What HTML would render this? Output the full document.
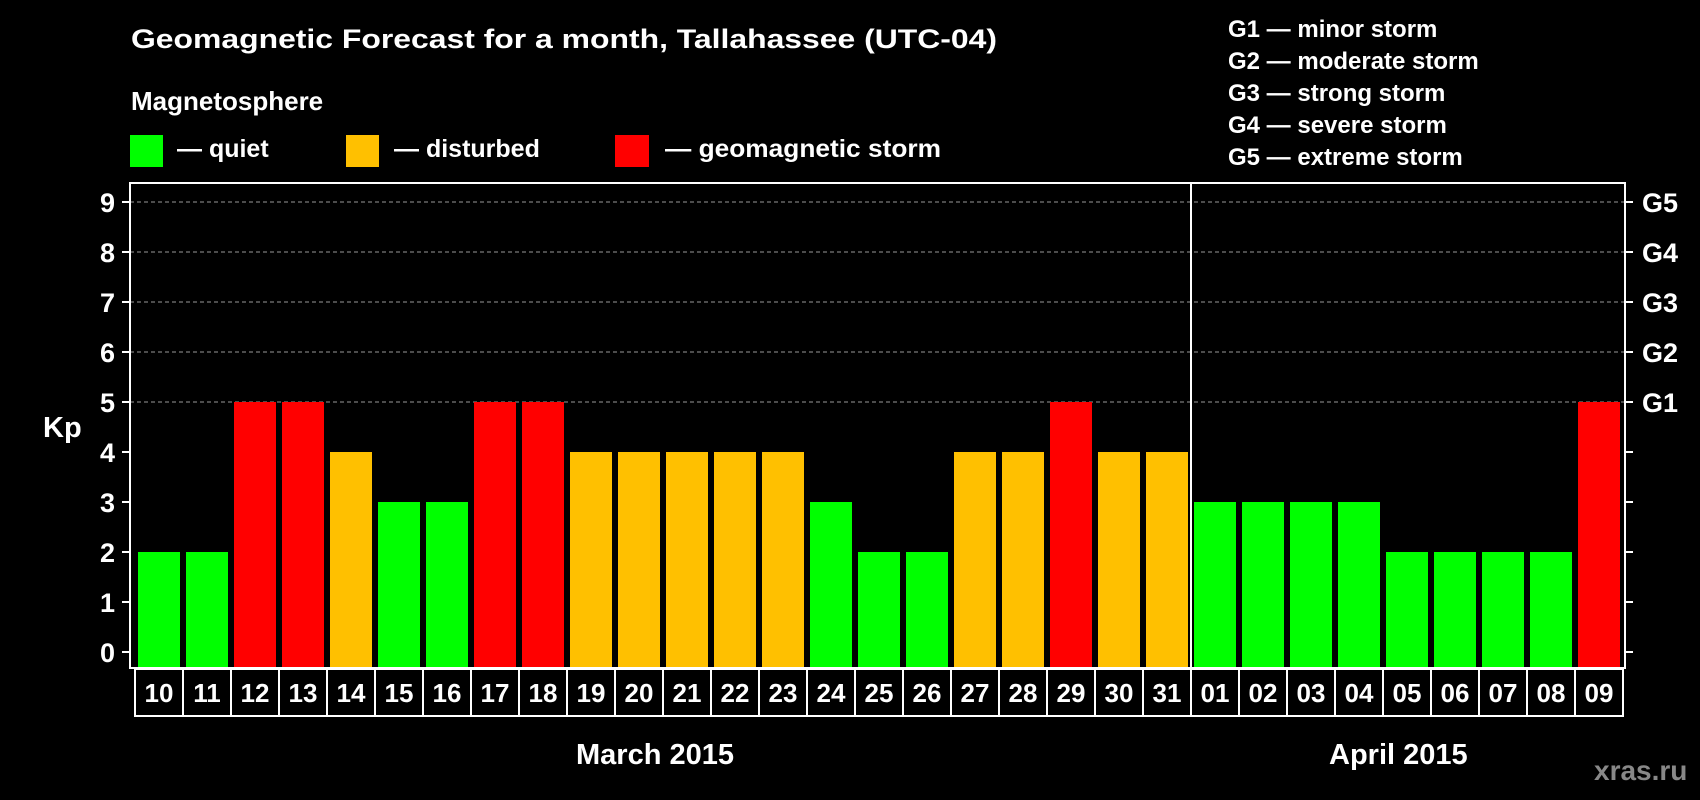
<!DOCTYPE html>
<html><head><meta charset="utf-8"><style>
html,body{margin:0;padding:0;background:#000;width:1700px;height:800px;overflow:hidden}
svg text{font-family:"Liberation Sans",sans-serif;font-weight:bold;fill:#fff}
</style></head><body>
<svg id="chart" width="1700" height="800" viewBox="0 0 1700 800" xmlns="http://www.w3.org/2000/svg">
<rect width="1700" height="800" fill="#000"/>
<text x="131" y="48" font-size="27" textLength="866" lengthAdjust="spacingAndGlyphs">Geomagnetic Forecast for a month, Tallahassee (UTC-04)</text>
<text x="131" y="110" font-size="26">Magnetosphere</text>
<rect x="130" y="135" width="33" height="32" fill="#00ff00"/>
<text x="177" y="157" font-size="25">— quiet</text>
<rect x="346" y="135" width="33" height="32" fill="#ffc000"/>
<text x="394" y="157" font-size="25">— disturbed</text>
<rect x="615" y="135" width="34" height="32" fill="#ff0000"/>
<text x="665" y="157" font-size="25" textLength="276" lengthAdjust="spacingAndGlyphs">— geomagnetic storm</text>
<g font-size="24">
<text x="1228" y="37" font-size="24">G1 — minor storm</text>
<text x="1228" y="69" font-size="24">G2 — moderate storm</text>
<text x="1228" y="101" font-size="24">G3 — strong storm</text>
<text x="1228" y="133" font-size="24">G4 — severe storm</text>
<text x="1228" y="165" font-size="24">G5 — extreme storm</text>
</g>
<text x="43" y="437" font-size="29">Kp</text>
<g id="grid"></g><g id="bars"></g><g id="axes"></g><g id="labels"></g>
<text x="576" y="764" font-size="29">March 2015</text>
<text x="1329" y="764" font-size="29">April 2015</text>
<text x="1594" y="780" font-size="28" style="fill:#888">xras.ru</text>
</svg>
<script>
const days = ["10","11","12","13","14","15","16","17","18","19","20","21","22","23","24","25","26","27","28","29","30","31","01","02","03","04","05","06","07","08","09"];
const kpValues = [2,2,5,5,4,3,3,5,5,4,4,4,4,4,3,2,2,4,4,5,4,4,3,3,3,3,2,2,2,2,5];
const yTicks = [0,1,2,3,4,5,6,7,8,9];
const gLabels = ["G1","G2","G3","G4","G5"];
const gLevels = [5,6,7,8,9];
const monthSplitIndex = 22;

const NS = "http://www.w3.org/2000/svg";
const x0 = 135, slot = 48, barW = 42, barOff = 3;
const yZero = 652, yStep = 50;
const plotLeft = 130, plotRight = 1625, plotTop = 183, plotBottom = 668;
function xPos(i){ return x0 + slot*i; }
function yPos(v){ return yZero - v*yStep; }
function mk(tag, attrs, parent){ const e=document.createElementNS(NS,tag); for(const k in attrs) e.setAttribute(k,attrs[k]); parent.appendChild(e); return e; }
function colorFor(v){ return v>=5 ? "#ff0000" : (v>=4 ? "#ffc000" : "#00ff00"); }

const gridG=document.getElementById("grid"), barsG=document.getElementById("bars"), axesG=document.getElementById("axes"), labelsG=document.getElementById("labels");

gLevels.forEach((lv,i)=>{
  const l = mk("line",{x1:plotLeft,x2:plotRight,y1:yPos(lv),y2:yPos(lv),stroke:"#999","stroke-width":1,"stroke-dasharray":"4,3"},gridG);
  
  
  const t = mk("text",{x:1642,y:yPos(lv)+10,"font-size":27},axesG);
  t.textContent = gLabels[i];
  
  
});

kpValues.forEach((v,i)=>{
  const r = mk("rect",{x:xPos(i)+barOff,y:yPos(v),width:barW,height:plotBottom-yPos(v),fill:colorFor(v)},barsG);
  
  
});

const frame = mk("rect",{x:plotLeft,y:plotTop,width:plotRight-plotLeft,height:plotBottom-plotTop,fill:"none",stroke:"#fff","stroke-width":2},axesG);


const div = mk("line",{x1:xPos(monthSplitIndex),x2:xPos(monthSplitIndex),y1:plotTop,y2:716,stroke:"#fff","stroke-width":2},axesG);



yTicks.forEach(v=>{
  mk("line",{x1:122,x2:plotLeft,y1:yPos(v),y2:yPos(v),stroke:"#fff","stroke-width":2},axesG);
  mk("line",{x1:plotRight,x2:1633,y1:yPos(v),y2:yPos(v),stroke:"#fff","stroke-width":2},axesG);
  const t = mk("text",{x:115,y:yPos(v)+10,"font-size":27,"text-anchor":"end"},axesG);
  t.textContent = v;
  
  
});

days.forEach((d,i)=>{
  const c = mk("rect",{x:xPos(i),y:669,width:slot,height:47,fill:"none",stroke:"#fff","stroke-width":2},labelsG);
  
  
  const t = mk("text",{x:xPos(i)+slot/2,y:702,"font-size":26,"text-anchor":"middle"},labelsG);
  t.textContent = d;
  
  
});
</script>
</body></html>
